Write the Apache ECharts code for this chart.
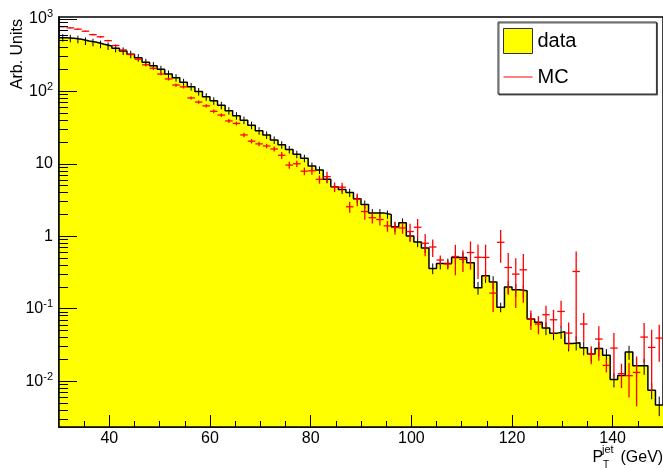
<!DOCTYPE html>
<html><head><meta charset="utf-8">
<script src="https://cdn.jsdelivr.net/npm/echarts@6/dist/echarts.min.js"></script>
<style>html,body{margin:0;padding:0;background:#fff}#c{width:663px;height:468px}</style>
</head><body><div id="c"></div>
<script>
// Bin edges (GeV), 80 bins of 1.5 GeV
const binEdges = [30,31.5,33,34.5,36,37.5,39,40.5,42,43.5,45,46.5,48,49.5,51,52.5,54,55.5,57,58.5,
  60,61.5,63,64.5,66,67.5,69,70.5,72,73.5,75,76.5,78,79.5,81,82.5,84,85.5,87,88.5,
  90,91.5,93,94.5,96,97.5,99,100.5,102,103.5,105,106.5,108,109.5,111,112.5,114,115.5,117,118.5,
  120,121.5,123,124.5,126,127.5,129,130.5,132,133.5,135,136.5,138,139.5,141,142.5,144,145.5,147,148.5,150];

const dataValues = [550,538,522,494,474,446,422,392,360,324,
  291,251,226,201,173,154,133,116,99,84,
  74,64,54,46,40,34,28.5,25,21.3,18.3,
  15.7,13.5,11.9,9.3,8.2,6.1,4.8,4.4,4.0,3.3,
  2.75,2.1,2.1,2.0,1.35,1.53,1.01,0.83,0.69,0.36,
  0.42,0.42,0.51,0.51,0.43,0.195,0.285,0.234,0.105,0.199,
  0.182,0.177,0.072,0.065,0.054,0.046,0.048,0.033,0.034,0.029,
  0.0237,0.0283,0.0227,0.0105,0.012,0.0252,0.0163,0.0163,0.0075,0.0047];

const dataErrRel = [0.12,0.12,0.12,0.12,0.12,0.12,0.12,0.12,0.12,0.12,
  0.12,0.12,0.12,0.12,0.12,0.12,0.12,0.12,0.12,0.12,
  0.12,0.12,0.12,0.12,0.12,0.12,0.12,0.12,0.12,0.12,
  0.12,0.12,0.12,0.12,0.12,0.12,0.13,0.13,0.13,0.13,
  0.13,0.13,0.13,0.13,0.15,0.15,0.15,0.15,0.15,0.17,
  0.17,0.17,0.17,0.17,0.17,0.2,0.2,0.2,0.15,0.2,
  0.2,0.2,0.2,0.2,0.2,0.2,0.2,0.22,0.22,0.22,
  0.22,0.22,0.22,0.22,0.22,0.22,0.25,0.25,0.25,0.3];

const mcValues = [780,750,720,675,605,565,500,428,372,322,
  277,232,208,173,148,122,115,81,71,63,
  53,47,39,36,25,20.5,18.8,17.6,16,13.1,
  9.6,10,7.9,8.0,6.1,6.65,4.8,4.75,2.55,3.25,
  2.19,1.8,1.7,1.39,1.32,1.3,1.16,1.33,0.8,0.71,
  0.47,0.415,0.525,0.48,0.596,0.512,0.51,0.164,0.825,0.37,
  0.30,0.344,0.0726,0.0614,0.0825,0.0703,0.0916,0.0461,0.326,0.0614,
  0.0237,0.0381,0.0165,0.0286,0.0127,0.0119,0.0132,0.0406,0.0292,0.0393];

const mcErrRel = [0.02,0.02,0.02,0.02,0.03,0.03,0.03,0.03,0.03,0.03,
  0.04,0.04,0.04,0.04,0.05,0.05,0.05,0.05,0.05,0.05,
  0.06,0.06,0.06,0.06,0.07,0.07,0.07,0.07,0.08,0.11,
  0.11,0.1,0.12,0.12,0.13,0.17,0.15,0.15,0.17,0.2,
  0.23,0.17,0.17,0.17,0.2,0.17,0.28,0.3,0.34,0.27,
  0.15,0.13,0.45,0.33,0.42,0.5,0.5,0.45,0.48,0.58,
  0.66,0.65,0.3,0.28,0.33,0.37,0.4,0.4,0.89,0.42,
  0.28,0.5,0.2,0.61,0.37,0.5,0.66,0.56,0.75,0.53];

const xLabelValues = [40,60,80,100,120,140];
const xMinorTickValues = [35,45,50,55,65,70,75,85,90,95,105,110,115,125,130,135,145,150];
const yLabelValues = [0.01,0.1,1,10,100,1000];
const yMinorTickValues = [0.003,0.004,0.005,0.006,0.007,0.008,0.009,
  0.02,0.03,0.04,0.05,0.06,0.07,0.08,0.09,
  0.2,0.3,0.4,0.5,0.6,0.7,0.8,0.9,
  2,3,4,5,6,7,8,9,
  20,30,40,50,60,70,80,90,
  200,300,400,500,600,700,800,900];

const FONT = '"Liberation Sans", Arial, Helvetica, sans-serif';

// Build series data from the arrays
const nBins = dataValues.length;
const stepData = [];
for (let i = 0; i < nBins; i++) stepData.push([binEdges[i], dataValues[i]]);
stepData.push([binEdges[nBins], dataValues[nBins - 1]]);

const dataErrData = dataValues.map((v, i) => {
  const c = (binEdges[i] + binEdges[i + 1]) / 2;
  const e = v * dataErrRel[i];
  return [c, v, v - e, v + e];
});
const mcData = mcValues.map((v, i) => {
  const e = v * mcErrRel[i];
  return [binEdges[i], binEdges[i + 1], v, v - e, v + e];
});

function yLabelFmt(v) {
  const e = Math.round(Math.log10(v));
  if (e === 0) return '{b|1}';
  if (e === 1) return '{b|10}';
  return '{b|10}{s|' + e + '}';
}

const chart = echarts.init(document.getElementById('c'), null, {renderer: 'canvas'});
chart.setOption({
  animation: false,
  backgroundColor: '#ffffff',
  grid: {left: 59, top: 17, width: 606, height: 410, show: true, borderColor: '#000', borderWidth: 1.5, backgroundColor: 'transparent'},
  xAxis: [{
    type: 'value', min: 30, max: 150, z: 5,
    axisLine: {show: true, onZero: false, lineStyle: {color: '#000', width: 1.5}},
    axisTick: {show: true, inside: true, length: 12, customValues: xLabelValues, lineStyle: {color: '#000', width: 1}},
    axisLabel: {show: true, customValues: xLabelValues, fontSize: 16, color: '#000', fontFamily: FONT, margin: 4},
    splitLine: {show: false}
  }, {
    type: 'value', min: 30, max: 150, position: 'bottom', z: 5,
    axisLine: {show: false},
    axisTick: {show: true, inside: true, length: 6, customValues: xMinorTickValues, lineStyle: {color: '#000', width: 1}},
    axisLabel: {show: false},
    splitLine: {show: false}
  }],
  yAxis: [{
    type: 'log', min: 0.00233, max: 1060, z: 5,
    axisLine: {show: true, onZero: false, lineStyle: {color: '#000', width: 1.5}},
    axisTick: {show: true, inside: true, length: 18, customValues: yLabelValues, lineStyle: {color: '#000', width: 1}},
    axisLabel: {show: true, customValues: yLabelValues, formatter: yLabelFmt, margin: 6, color: '#000',
      rich: {
        b: {fontSize: 16, fontFamily: FONT, color: '#000', lineHeight: 20},
        s: {fontSize: 11, fontFamily: FONT, color: '#000', lineHeight: 10, verticalAlign: 'top'}
      }},
    splitLine: {show: false}
  }, {
    type: 'log', min: 0.00233, max: 1060, position: 'left', z: 5,
    axisLine: {show: false},
    axisTick: {show: true, inside: true, length: 9, customValues: yMinorTickValues, lineStyle: {color: '#000', width: 1}},
    axisLabel: {show: false},
    splitLine: {show: false}
  }],
  legend: {
    orient: 'vertical', left: 498, top: 22,
    padding: [6, 80, 7, 5],
    itemWidth: 29, itemHeight: 25, itemGap: 13,
    borderColor: '#333', borderWidth: 1, backgroundColor: '#fff',
    shadowColor: 'rgba(0,0,0,0.6)', shadowOffsetX: 1, shadowOffsetY: 1, shadowBlur: 0,
    selectedMode: false,
    textStyle: {fontSize: 20, color: '#000', fontFamily: FONT},
    data: [
      {name: 'data', icon: 'rect', itemStyle: {color: '#ffff00', borderColor: '#333', borderWidth: 1}},
      {name: 'MC', itemStyle: {opacity: 0}, lineStyle: {color: '#ff0000', width: 1}}
    ]
  },
  series: [
    {
      name: 'data', type: 'line', step: 'end', data: stepData, symbol: 'none', z: 2,
      xAxisIndex: 0, yAxisIndex: 0,
      lineStyle: {color: '#000', width: 1.5},
      itemStyle: {color: '#ffff00'},
      areaStyle: {color: '#ffff00', opacity: 1, origin: 'start'}
    },
    {
      name: 'data', type: 'custom', data: dataErrData, z: 3,
      xAxisIndex: 0, yAxisIndex: 0,
      encode: {x: 0, y: [1, 2, 3]},
      renderItem: function (params, api) {
        const x = api.value(0);
        const p1 = api.coord([x, api.value(2)]);
        const p2 = api.coord([x, api.value(3)]);
        return {type: 'line', shape: {x1: p1[0], y1: p1[1], x2: p2[0], y2: p2[1]}, style: {stroke: '#000', lineWidth: 1}};
      }
    },
    {
      name: 'MC', type: 'line', data: [], symbol: 'none',
      lineStyle: {color: '#ff0000', width: 1}, itemStyle: {color: '#ff0000'}
    },
    {
      name: 'MC', type: 'custom', data: mcData, z: 4,
      xAxisIndex: 0, yAxisIndex: 0,
      encode: {x: [0, 1], y: [2, 3, 4]},
      renderItem: function (params, api) {
        const x0 = api.value(0), x1 = api.value(1), v = api.value(2);
        const xc = (x0 + x1) / 2;
        const a = api.coord([x0, v]), b = api.coord([x1, v]);
        const c = api.coord([xc, api.value(3)]), d = api.coord([xc, api.value(4)]);
        return {type: 'group', children: [
          {type: 'line', shape: {x1: a[0], y1: a[1], x2: b[0], y2: b[1]}, style: {stroke: '#ff0000', lineWidth: 1.3}},
          {type: 'line', shape: {x1: c[0], y1: c[1], x2: d[0], y2: d[1]}, style: {stroke: '#ff0000', lineWidth: 1.3}}
        ]};
      }
    }
  ],
  graphic: [
    {type: 'text', x: 17.5, y: 19, rotation: Math.PI / 2, z: 10,
      style: {text: 'Arb. Units', font: '16px ' + FONT, fill: '#000', textAlign: 'right', align: 'right', textVerticalAlign: 'middle', verticalAlign: 'middle'}},
    {type: 'text', x: 592.5, y: 457.5, z: 10,
      style: {text: 'P', font: '16px ' + FONT, fill: '#000', textAlign: 'left', align: 'left', textVerticalAlign: 'middle', verticalAlign: 'middle'}},
    {type: 'text', x: 602, y: 450, z: 10,
      style: {text: 'jet', font: '11px ' + FONT, fill: '#000', textAlign: 'left', align: 'left', textVerticalAlign: 'middle', verticalAlign: 'middle'}},
    {type: 'text', x: 603, y: 465, z: 10,
      style: {text: 'T', font: '10px ' + FONT, fill: '#000', textAlign: 'left', align: 'left', textVerticalAlign: 'middle', verticalAlign: 'middle'}},
    {type: 'text', x: 620.5, y: 457.5, z: 10,
      style: {text: '(GeV)', font: '16px ' + FONT, fill: '#000', textAlign: 'left', align: 'left', textVerticalAlign: 'middle', verticalAlign: 'middle'}}
  ]
});
</script>
</body></html>
